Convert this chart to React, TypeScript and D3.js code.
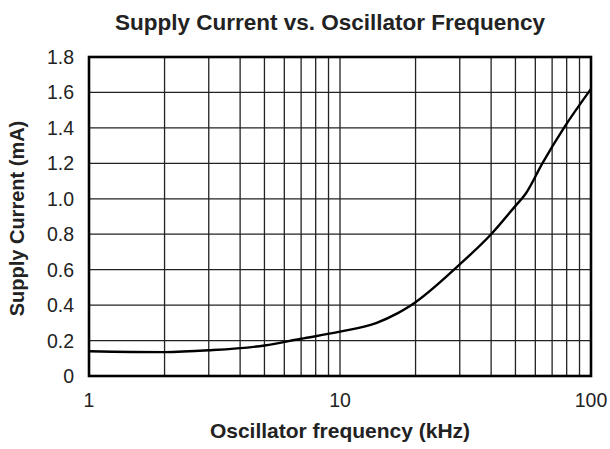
import React from "react";
import * as d3 from "d3";

const freqKHz = [1, 2, 3, 5, 7, 10, 14, 17, 19, 30, 40, 50, 55, 64, 78, 100];
const currentMA = [0.14, 0.135, 0.145, 0.172, 0.21, 0.25, 0.3, 0.355, 0.395, 0.63, 0.8, 0.96, 1.03, 1.2, 1.4, 1.62];
const yTicks = [0, 0.2, 0.4, 0.6, 0.8, 1.0, 1.2, 1.4, 1.6, 1.8];
const yTickLabels = ["0", "0.2", "0.4", "0.6", "0.8", "1.0", "1.2", "1.4", "1.6", "1.8"];
const xMajor = [1, 10, 100];
const xMajorLabels = ["1", "10", "100"];

const W = 610, H = 449;
const L = 89, R = 591, T = 57, B = 376;
const font = "'Liberation Sans', Arial, Helvetica, sans-serif";

export default function App() {
  const x = d3.scaleLog().domain([1, 100]).range([L, R]);
  const y = d3.scaleLinear().domain([0, 1.8]).range([B, T]);
  const xGrid: number[] = [];
  for (const dec of [1, 10]) for (let k = 2; k <= 9; k++) xGrid.push(dec * k);
  xGrid.push(10);
  const line = d3.line<number>().x((_, i) => x(freqKHz[i])).y((d) => y(d)).curve(d3.curveMonotoneX);
  return (
    <svg width={W} height={H} style={{ position: "absolute", left: 0, top: 0 }} fontFamily={font}>
      <rect width={W} height={H} fill="#fff" />
      {yTicks.map((t, i) => (
        <g key={"y" + i}>
          <line x1={L} x2={R} y1={y(t)} y2={y(t)} stroke="#222" strokeWidth={1.3} />
          <text x={74} y={y(t)} dy="0.36em" textAnchor="end" fontSize={19.5} fill="#222">{yTickLabels[i]}</text>
        </g>
      ))}
      {xGrid.map((v, i) => (
        <line key={"x" + i} x1={x(v)} x2={x(v)} y1={T} y2={B} stroke="#222" strokeWidth={1.3} />
      ))}
      {xMajor.map((v, i) => (
        <text key={"xl" + i} x={x(v)} y={407} textAnchor="middle" fontSize={19.5} fill="#222">{xMajorLabels[i]}</text>
      ))}
      <path d={line(currentMA) || ""} fill="none" stroke="#000" strokeWidth={2.4} />
      <rect x={L} y={T} width={R - L} height={B - T} fill="none" stroke="#000" strokeWidth={2.6} />
      <text x={330} y={30} textAnchor="middle" fontSize={22.5} fontWeight="bold" fill="#222">Supply Current vs. Oscillator Frequency</text>
      <text x={340} y={438} textAnchor="middle" fontSize={21} fontWeight="bold" fill="#222">Oscillator frequency (kHz)</text>
      <text transform={`translate(24,${(T + B) / 2 + 2}) rotate(-90)`} textAnchor="middle" fontSize={20} fontWeight="bold" fill="#222">Supply Current (mA)</text>
    </svg>
  );
}
